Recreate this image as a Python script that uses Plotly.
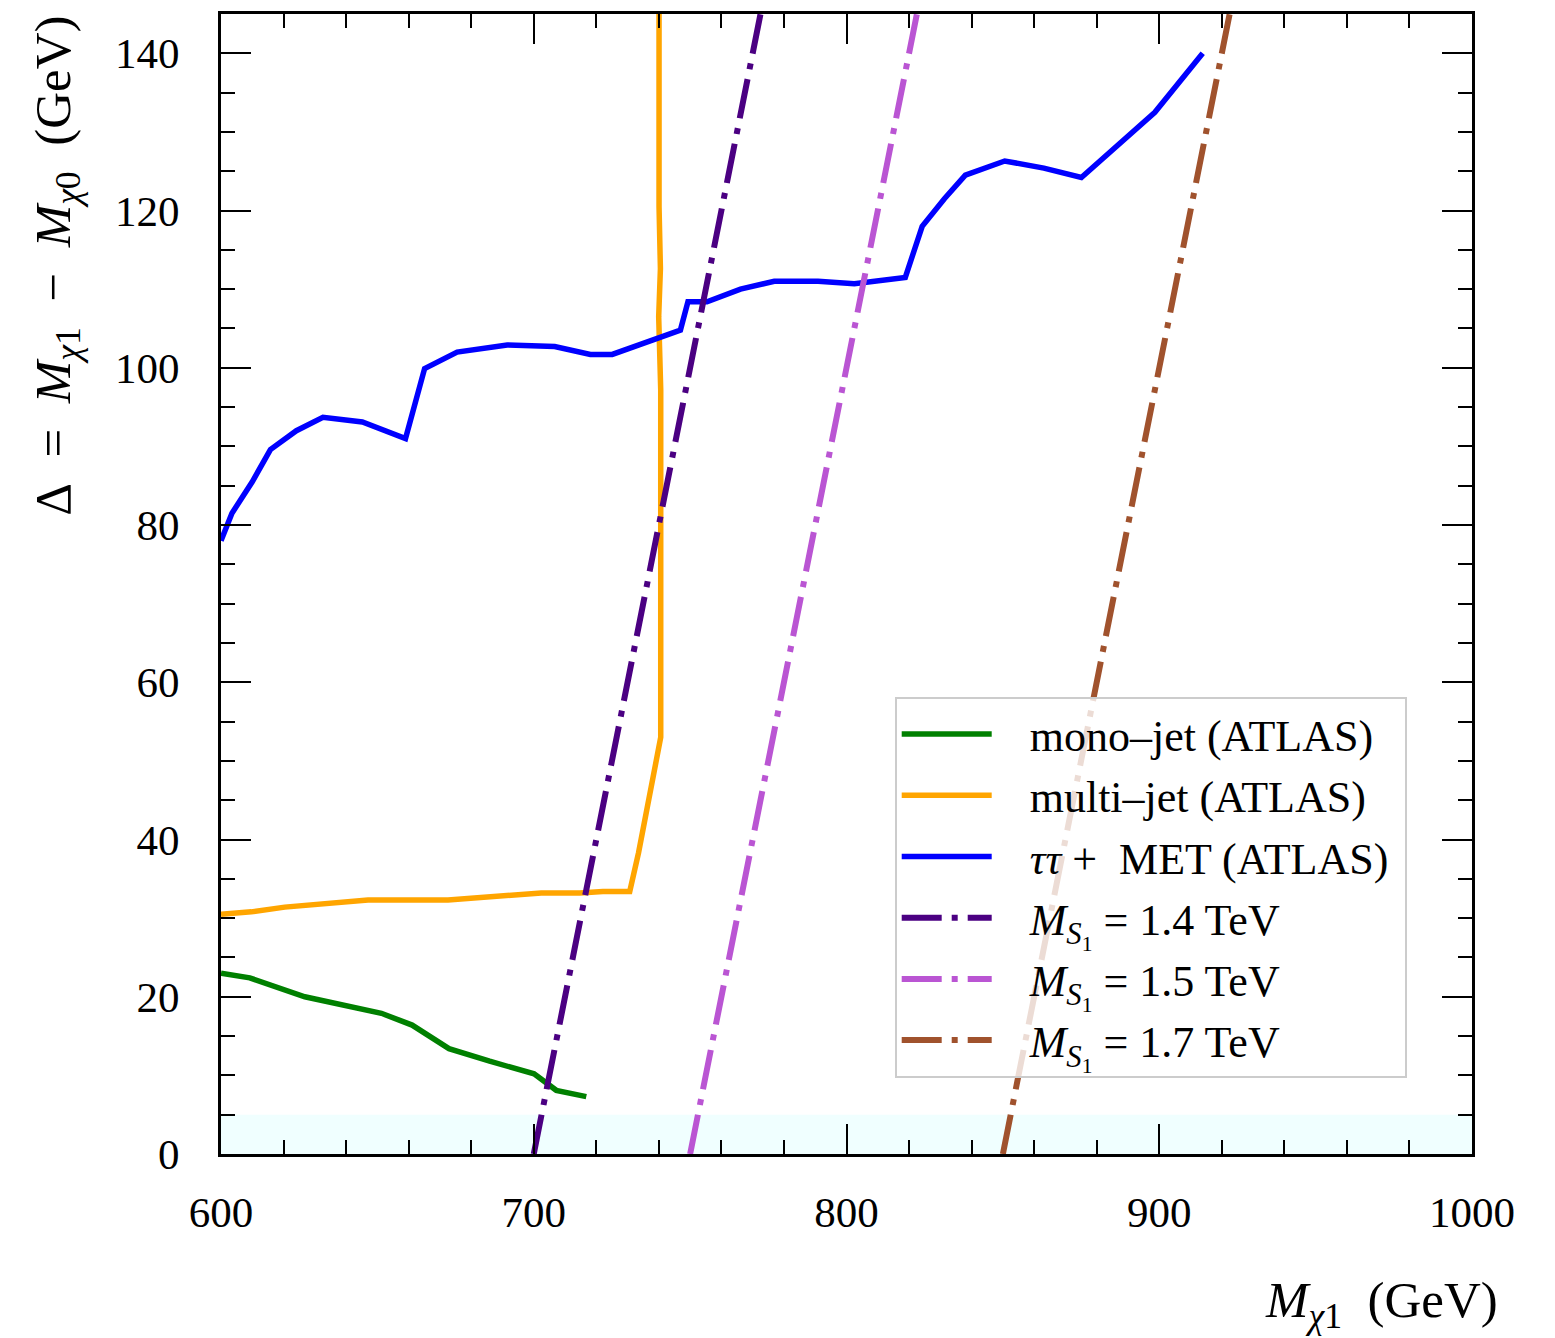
import plotly.graph_objects as go

# ---- data ----------------------------------------------------------------
# mono-jet (ATLAS) exclusion contour
mono_x = [600, 609.2, 626.8, 640.1, 651.3, 661.1, 672.9, 685.9, 700.1, 707.2, 716.8]
mono_y = [23.0, 22.4, 20.0, 18.9, 17.9, 16.4, 13.4, 11.8, 10.2, 8.1, 7.3]

# multi-jet (ATLAS) exclusion contour
multi_x = [600, 609.7, 620.4, 633.0, 647.0, 672.6, 685.9, 702.4, 714.7, 722.1, 730.7,
           733.5, 740.6, 740.8, 740.6, 739.95, 740.5, 740.06, 740.06]
multi_y = [30.5, 30.8, 31.4, 31.9, 32.3, 32.3, 32.7, 33.2, 33.2, 33.4, 33.4,
           38.3, 53.0, 83.0, 97.2, 106.5, 112.6, 120.5, 145.0]

# tau tau + MET (ATLAS) exclusion contour
tau_x = [600, 603.5, 610.0, 615.8, 624.1, 632.6, 645.2, 659.0, 665.1, 675.5, 691.5,
         706.7, 718.1, 725.1, 746.9, 749.3, 755.4, 766.1, 776.9, 790.9, 802.5, 818.8,
         824.2, 831.3, 838.0, 850.6, 863.1, 875.1, 898.6, 913.9]
tau_y = [78.0, 81.5, 85.5, 89.6, 92.0, 93.7, 93.1, 91.0, 99.9, 102.0, 102.9,
         102.7, 101.7, 101.7, 104.8, 108.4, 108.4, 110.0, 111.0, 111.0, 110.7, 111.5,
         118.0, 121.5, 124.5, 126.3, 125.4, 124.2, 132.5, 140.0]

# relic-density lines for fixed scalar mass
ms14_x = [700.0, 772.5]
ms14_y = [0.0, 145.0]
ms15_x = [750.0, 822.5]
ms15_y = [0.0, 145.0]
ms17_x = [850.0, 922.5]
ms17_y = [0.0, 145.0]

# compressed region band
band_x = [600, 1000]
band_y = [0, 5]

x_range = [600, 1000]
y_range = [0, 145]
x_ticks = [600, 700, 800, 900, 1000]
y_ticks = [0, 20, 40, 60, 80, 100, 120, 140]

FONT = "Liberation Serif"
DASHDOT = "40px,10px,6px,10px"
SP = "\u00a0"          # non-breaking space for spacing in labels
PAD = SP * 3            # gap between legend sample line and label

fig = go.Figure()

fig.add_shape(type="rect", xref="x", yref="y",
              x0=band_x[0], x1=band_x[1], y0=band_y[0], y1=band_y[1],
              fillcolor="#F0FFFF", line=dict(width=0), layer="below")

ms_label = "<i>M</i><sub><i>S</i><sub>1</sub></sub>" + SP + "=" + SP + "{} TeV"
series = [
    (mono_x, mono_y, "mono–jet (ATLAS)", "#008000", "solid", 5.5),
    (multi_x, multi_y, "multi–jet (ATLAS)", "#FFA500", "solid", 5.5),
    (tau_x, tau_y, "<i>ττ</i> +" + SP + SP + "MET (ATLAS)" + SP, "#0000FF", "solid", 5.5),
    (ms14_x, ms14_y, ms_label.format("1.4"), "#4B0082", DASHDOT, 6),
    (ms15_x, ms15_y, ms_label.format("1.5"), "#BA55D3", DASHDOT, 6),
    (ms17_x, ms17_y, ms_label.format("1.7"), "#A0522D", DASHDOT, 6),
]
for i, (xs, ys, name, color, dash, w) in enumerate(series):
    fig.add_trace(go.Scatter(
        x=xs, y=ys, mode="lines", name=PAD + name, legendgroup=f"g{i}",
        line=dict(color=color, width=w, dash=dash),
        cliponaxis=True,
    ))

axis_common = dict(
    showline=True, linecolor="black", linewidth=3, mirror="allticks",
    ticks="inside", ticklen=30, tickwidth=2, tickcolor="black",
    showgrid=False, zeroline=False,
    tickfont=dict(family=FONT, size=43, color="black"),
)

fig.update_xaxes(range=x_range, tickvals=x_ticks, ticklabelstandoff=18,
                 minor=dict(dtick=20, ticks="inside", ticklen=14, tickwidth=1.5,
                            tickcolor="black", showgrid=False),
                 **axis_common)
fig.update_yaxes(range=y_range, tickvals=y_ticks, ticklabelstandoff=30,
                 minor=dict(dtick=5, ticks="inside", ticklen=14, tickwidth=1.5,
                            tickcolor="black", showgrid=False),
                 **axis_common)

fig.add_annotation(
    text=("Δ" + SP * 2 + "=" + SP * 2 + "<i>M</i><sub><i>χ</i>1</sub>" + SP * 2 + "−" + SP * 2
          + "<i>M</i><sub><i>χ</i>0</sub>" + SP * 2 + "(GeV)"),
    xref="paper", yref="paper", x=(57 - 221.3) / 1251.0, y=1.0,
    xanchor="center", yanchor="top", textangle=-90, showarrow=False,
    font=dict(family=FONT, size=51, color="black"),
)
fig.add_annotation(
    text="<i>M</i><sub><i>χ</i>1</sub>" + SP * 2 + "(GeV)",
    xref="paper", yref="paper", x=(1500 - 221.3) / 1251.0, y=(1154.3 - 1305) / 1143.3,
    xanchor="right", yanchor="middle", showarrow=False,
    font=dict(family=FONT, size=51, color="black"),
)

fig.update_layout(
    width=1555, height=1338,
    margin=dict(l=221, r=83, t=11, b=184),
    paper_bgcolor="white", plot_bgcolor="white",
    font=dict(family=FONT, color="black"),
    legend=dict(
        x=(895 - 221.3) / 1251.0, y=(1154.3 - 696) / 1143.3,
        xanchor="left", yanchor="top",
        bgcolor="rgba(255,255,255,0.8)", bordercolor="#CCCCCC", borderwidth=2,
        font=dict(family=FONT, size=44, color="black"),
        tracegroupgap=1, itemwidth=90,
    ),
)

fig.write_html("out.html")
